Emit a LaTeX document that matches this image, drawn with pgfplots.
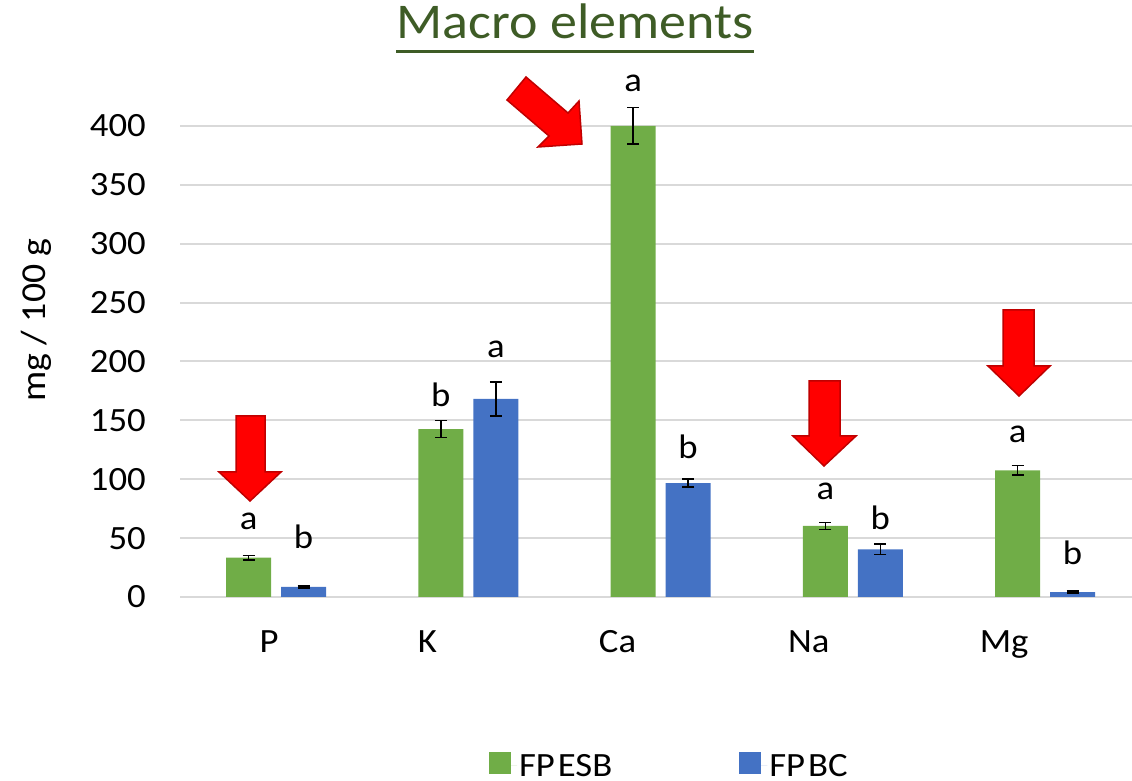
\documentclass[border=0pt]{standalone}
\usepackage{pgfplots}
\pgfplotsset{compat=1.18}
\usepackage{pgfplotstable}
\usepackage{fontspec}
\setmainfont{Carlito}[FakeStretch=1.08]
\definecolor{esb}{HTML}{70AD47}
\definecolor{bc}{HTML}{4472C4}
\definecolor{gridc}{HTML}{D9D9D9}
\definecolor{titlec}{HTML}{3E5C26}
\definecolor{arrowedge}{HTML}{C00000}

\pgfplotstableread{
x y e
0 33.4 2
1 142.5 7.2
2 400 15.5
3 60.3 2.8
4 107.5 4
}\esbdata
\pgfplotstableread{
x y e
0 8.5 1
1 168.2 14.4
2 96.8 3.4
3 40.5 4.5
4 4.2 1
}\bcdata

\begin{document}
\begin{tikzpicture}[x=1pt,y=1pt]
\path[use as bounding box] (0,0) rectangle (1132,781);
\begin{axis}[
  at={(180pt,184pt)}, anchor=south west,
  scale only axis, width=952pt, height=471pt,
  xmin=-0.5, xmax=4.452, ymin=0, ymax=400,
  ybar=10pt, bar width=45pt,
  ytick={0,50,...,400},
  xtick={-0.036,0.787,1.776,2.771,3.787},
  xticklabels={P,K,Ca,Na,Mg},
  ymajorgrids, grid style={gridc, line width=2pt},
  axis line style={draw=none},
  major tick length=0pt,
  tick label style={font=\fontsize{34}{40}\selectfont, inner sep=0pt},
  yticklabel style={anchor=east, xshift=-34pt},
  xticklabel style={anchor=base, yshift=-56pt},
  /pgf/number format/assume math mode=true,
  clip=false,
  legend columns=2,
  legend cell align=left,
  legend style={at={(0.514,-0.357)}, anchor=center, draw=none, fill=none,
    font=\fontsize{34}{40}\selectfont,
    nodes={text depth=0pt},
    /tikz/every even column/.append style={column sep=125pt}},
]
\addplot[fill=esb, draw=none,
  legend image code/.code={\fill[esb] (0pt,-9pt) rectangle (22pt,13pt); \path (0pt,0pt) -- (28pt,0pt);},
  error bars/.cd, y dir=both, y explicit,
  error bar style={black, line width=1.5pt},
  error mark options={black, rotate=90, mark size=6pt, line width=1.5pt}]
  table[x=x, y=y, y error=e] {\esbdata};
\addplot[fill=bc, draw=none,
  legend image code/.code={\fill[bc] (0pt,-9pt) rectangle (22pt,13pt); \path (0pt,0pt) -- (28pt,0pt);},
  error bars/.cd, y dir=both, y explicit,
  error bar style={black, line width=1.5pt},
  error mark options={black, rotate=90, mark size=6pt, line width=1.5pt}]
  table[x=x, y=y, y error=e] {\bcdata};
\legend{FP\hspace{3pt}ESB, FP\hspace{3pt}BC}

\begin{scope}[every node/.style={anchor=base, font=\fontsize{34}{40}\selectfont, inner sep=0pt}]
\node at (axis cs:-0.143,57.7) {a};
\node at (axis cs:0.143,41.6) {b};
\node at (axis cs:0.857,161.4) {b};
\node at (axis cs:1.143,203.8) {a};
\node at (axis cs:1.857,428.9) {a};
\node at (axis cs:2.143,118) {b};
\node at (axis cs:2.857,82.4) {a};
\node at (axis cs:3.143,57.7) {b};
\node at (axis cs:3.857,130.8) {a};
\node at (axis cs:4.143,27.2) {b};
\end{scope}
\end{axis}

% y label
\node[rotate=90, font=\fontsize{35}{40}\selectfont, inner sep=0pt] at (36,461) {mg / 100 g};

% title
\node[anchor=base, font=\fontsize{50}{60}\selectfont, text=titlec, inner sep=0pt] (t) at (575,742) {Macro elements};
\draw[titlec, line width=3pt] ([yshift=-13pt]t.base west) -- ([yshift=-13pt]t.base east);

% arrows
\begin{scope}[fill=red, draw=arrowedge, line width=1.5pt, line join=miter]
\filldraw (236,365) -- (265,365) -- (265,309) -- (281,309) -- (250,280) -- (219,309) -- (236,309) -- cycle;
\filldraw (809,400) -- (840,400) -- (840,345) -- (856,345) -- (824,315) -- (793,345) -- (809,345) -- cycle;
\filldraw (1003,471) -- (1034,471) -- (1034,415) -- (1050,415) -- (1019,385) -- (988,415) -- (1003,415) -- cycle;
\filldraw (526,704) -- (568,668) -- (579,680) -- (582,637) -- (538,634) -- (549,645) -- (507,681) -- cycle;
\end{scope}
\end{tikzpicture}
\end{document}
